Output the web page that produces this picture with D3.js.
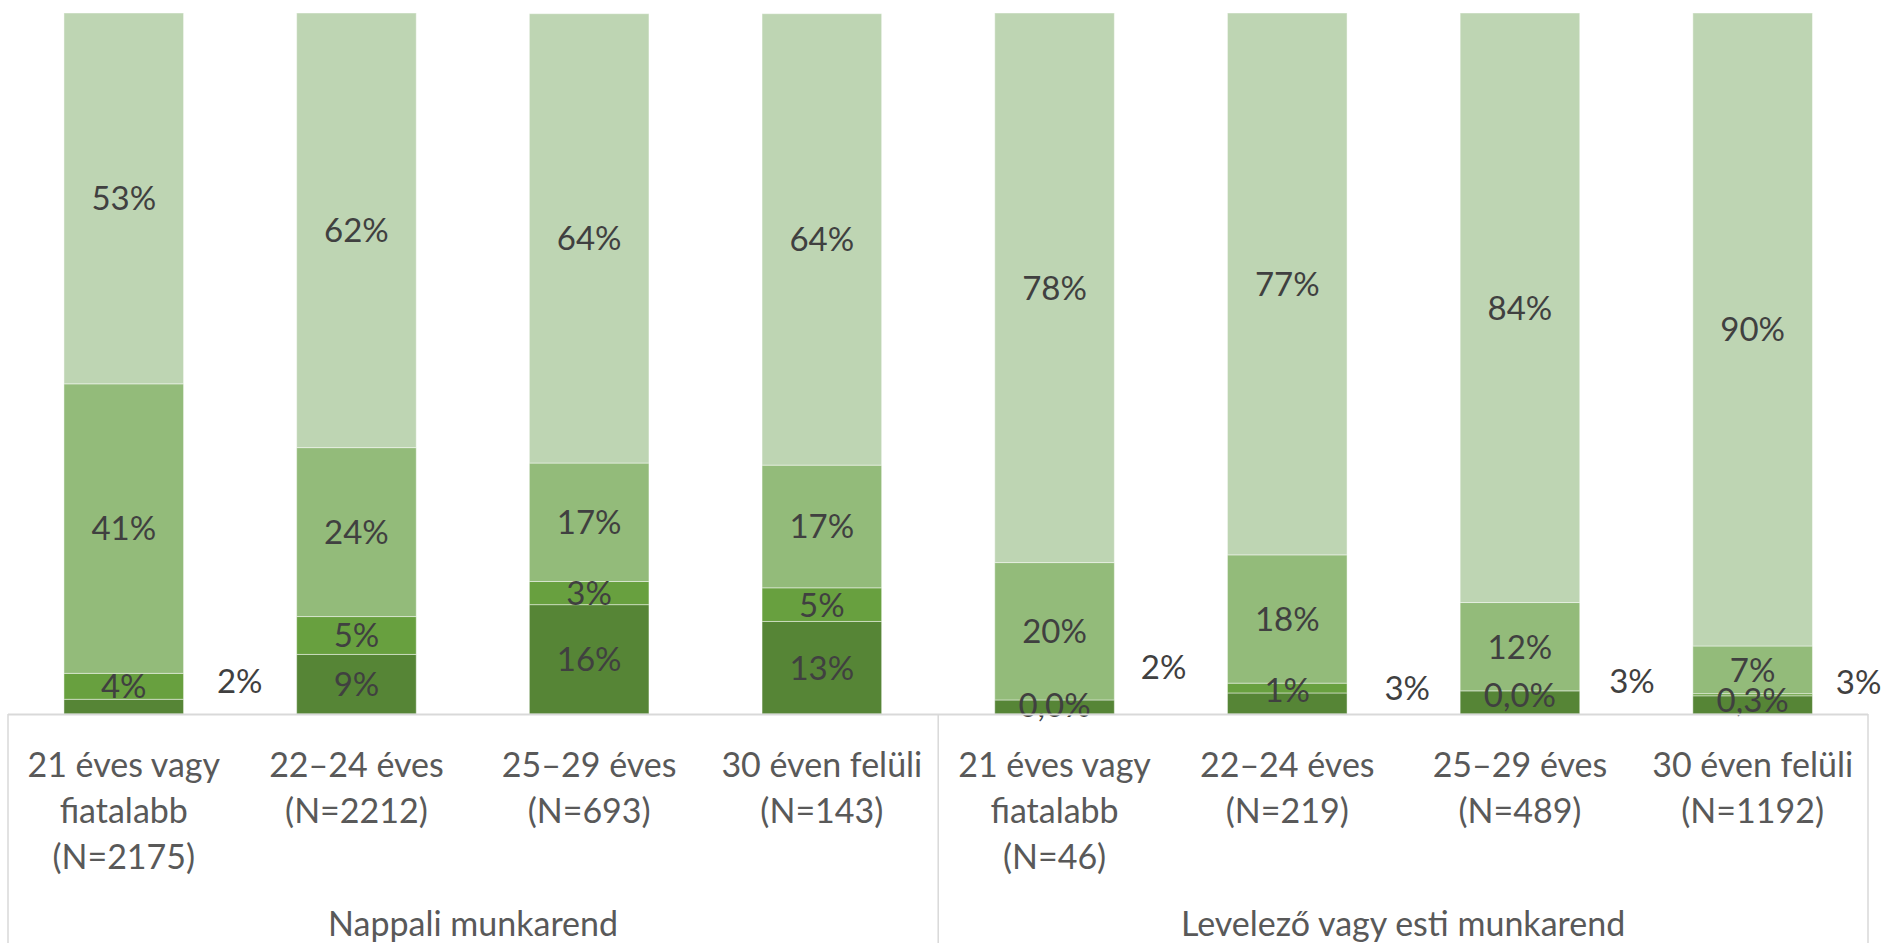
<!DOCTYPE html>
<html>
<head>
<meta charset="utf-8">
<script src="https://cdn.jsdelivr.net/npm/d3@7"></script>
<style>
  html, body { margin: 0; padding: 0; background: #fff; }
  svg { display: block; }
  text { font-family: Lato, "Noto Sans", sans-serif; fill: #404040; }
  text.axislabel { fill: #595959; }
</style>
</head>
<body>
<svg id="chart" width="1893" height="943"></svg>
<script>
// ---- data ----
const categoryKeys = ["n21", "n22", "n25", "n30", "l21", "l22", "l25", "l30"];
const categoryLines = [
  ["21 éves vagy", "fiatalabb", "(N=2175)"],
  ["22–24 éves", "(N=2212)"],
  ["25–29 éves", "(N=693)"],
  ["30 éven felüli", "(N=143)"],
  ["21 éves vagy", "fiatalabb", "(N=46)"],
  ["22–24 éves", "(N=219)"],
  ["25–29 éves", "(N=489)"],
  ["30 éven felüli", "(N=1192)"]
];
const groupNames = ["Nappali munkarend", "Levelező vagy esti munkarend"];
const groupSizes = [4, 4];

const seriesKeys = ["s1", "s2", "s3", "s4"]; // bottom -> top
const s1Values = [2.1, 8.5, 15.6, 13.2, 2.0, 3.0, 3.3, 2.6];
const s2Values = [3.7, 5.4, 3.3, 4.8, 0.0, 1.4, 0.0, 0.3];
const s3Values = [41.3, 24.1, 16.9, 17.5, 19.6, 18.3, 12.6, 6.8];
const s4Values = [52.9, 62.0, 64.1, 64.4, 78.4, 77.3, 84.1, 90.3];

const s1Labels = ["2%", "9%", "16%", "13%", "2%", "3%", "3%", "3%"];
const s2Labels = ["4%", "5%", "3%", "5%", "0,0%", "1%", "0,0%", "0,3%"];
const s3Labels = ["41%", "24%", "17%", "17%", "20%", "18%", "12%", "7%"];
const s4Labels = ["53%", "62%", "64%", "64%", "78%", "77%", "84%", "90%"];

// ---- style / placement ----
const colors = { s1: "#568536", s2: "#68A03F", s3: "#93BB7A", s4: "#BED5B3" };
// manual label nudges (px) relative to segment centre: [dx, dy]
const labelNudge = {
  s1: [[116, -26], [0, 0], [0, 0], [0, 0], [109, -40], [120, -15], [112, -21], [106, -23]],
  s2: [[0, 0], [0, 0], [0, 0], [0, 0], [0, 5], [0, 2], [0, 4], [0, 5]]
};

const W = 1893, H = 943;
const plotTop = 13, plotBottom = 714;
const xLeft = 7.4, xRight = 1869;

const svg = d3.select("#chart");

const rows = categoryKeys.map((k, i) => ({
  key: k, s1: s1Values[i], s2: s2Values[i], s3: s3Values[i], s4: s4Values[i]
}));
const labels = { s1: s1Labels, s2: s2Labels, s3: s3Labels, s4: s4Labels };

const x = d3.scaleBand().domain(categoryKeys).range([xLeft, xRight])
  .paddingInner(0.486).paddingOuter(0.243);
const y = d3.scaleLinear().domain([0, 100]).range([plotBottom, plotTop]);

const stacked = d3.stack().keys(seriesKeys)(rows);

const layers = svg.append("g").selectAll("g").data(stacked).join("g")
  .attr("fill", d => colors[d.key]);

layers.selectAll("rect").data(d => d).join("rect")
  .attr("x", d => x(d.data.key))
  .attr("width", x.bandwidth())
  .attr("y", d => y(d[1]))
  .attr("height", d => y(d[0]) - y(d[1]))
  .attr("stroke", "#ffffff")
  .attr("stroke-opacity", 0.45)
  .attr("stroke-width", 1);

// data labels
const lblG = svg.append("g");
stacked.forEach(layer => {
  layer.forEach((d, i) => {
    const nudge = (labelNudge[layer.key] || [])[i] || [0, 0];
    const cx = x(d.data.key) + x.bandwidth() / 2 + nudge[0];
    const cy = (y(d[0]) + y(d[1])) / 2 + nudge[1];
    lblG.append("text")
      .attr("x", cx).attr("y", cy).attr("dy", "0.36em")
      .attr("text-anchor", "middle")
      .attr("font-size", 33)
      .text(labels[layer.key][i]);
  });
});

// axis line and group dividers
const axisColor = "#D9D9D9";
const axisG = svg.append("g");
axisG.append("line")
  .attr("x1", 8).attr("x2", 1868)
  .attr("y1", plotBottom + 0.5).attr("y2", plotBottom + 0.5)
  .attr("stroke", axisColor).attr("stroke-width", 2);

let idx = 0;
const dividers = [8];
groupSizes.forEach(n => {
  idx += n;
  const last = categoryKeys[idx - 1];
  dividers.push(idx < categoryKeys.length
    ? (x(last) + x.bandwidth() + x(categoryKeys[idx])) / 2
    : 1868);
});
axisG.selectAll("line.div").data(dividers).join("line")
  .attr("class", "div")
  .attr("x1", d => d).attr("x2", d => d)
  .attr("y1", plotBottom).attr("y2", H)
  .attr("stroke", axisColor).attr("stroke-width", 1.5);

// category tick labels
const tickG = svg.append("g");
categoryKeys.forEach((k, i) => {
  const t = tickG.append("text")
    .attr("class", "axislabel")
    .attr("x", x(k) + x.bandwidth() / 2)
    .attr("y", 765).attr("dy", "0.36em")
    .attr("text-anchor", "middle")
    .attr("font-size", 34);
  categoryLines[i].forEach((line, j) => {
    t.append("tspan")
      .attr("x", x(k) + x.bandwidth() / 2)
      .attr("y", 765 + j * 46).attr("dy", "0.36em")
      .text(line);
  });
});

// group labels
groupNames.forEach((g, gi) => {
  const a = dividers[gi], b = dividers[gi + 1];
  svg.append("text")
    .attr("class", "axislabel")
    .attr("x", (a + b) / 2).attr("y", 924).attr("dy", "0.36em")
    .attr("text-anchor", "middle")
    .attr("font-size", 34)
    .text(g);
});
</script>
</body>
</html>
